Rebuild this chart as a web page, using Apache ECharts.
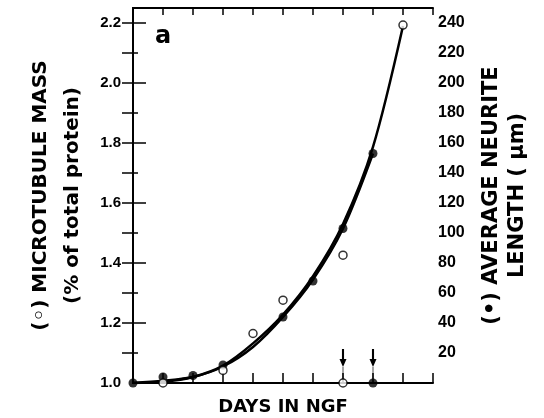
<!DOCTYPE html>
<html>
<head>
<meta charset="utf-8">
<script src="https://cdn.jsdelivr.net/npm/echarts@6/dist/echarts.min.js"></script>
<style>
  html, body { margin: 0; padding: 0; background: #fff; }
  #chart { width: 544px; height: 418px; }
</style>
</head>
<body>
<div id="chart"></div>
<script>
// Microtubule mass (% of total protein) — open circles, left axis
const massDays   = [1, 3, 4, 5, 7, 9, 7];
const massValues = [1.0, 1.042, 1.165, 1.276, 1.426, 2.193, 1.0];

// Average neurite length (µm) — filled circles, right axis
const lengthDays   = [0, 1, 2, 3, 5, 6, 7, 8, 8];
const lengthValues = [0, 4, 5, 12, 44, 68, 103, 153, 0];

// Fitted curves
const massCurveDays   = [0, 1, 2, 3, 4, 5, 6, 7, 8, 9];
const massCurveValues = [1.0, 1.004, 1.02, 1.058, 1.132, 1.228, 1.356, 1.53, 1.787, 2.19];
const lengthCurveDays   = [0, 1, 2, 3, 4, 5, 6, 7, 8];
const lengthCurveValues = [0, 1.5, 4, 11, 24, 44, 69, 103, 153];

// Days marked with an arrow (one per series, on the baseline)
const massArrowDay = 7;
const lengthArrowDay = 8;

const massTicks = [1.0, 1.2, 1.4, 1.6, 1.8, 2.0, 2.2];
const lengthTicks = [20, 40, 60, 80, 100, 120, 140, 160, 180, 200, 220, 240];

const zip = (xs, ys) => xs.map((x, i) => [x, ys[i]]);

const ink = '#000';
const titleFont = 'DejaVu Sans';
const arrowPath = 'path://M3.5,0 L6.5,0 L6.5,10 L10,10 L5,18 L0,10 L3.5,10 Z M4.5,18 L5.5,18 L5.5,30 L4.5,30 Z';

const chart = echarts.init(document.getElementById('chart'), null, { renderer: 'canvas' });

chart.setOption({
  animation: false,
  backgroundColor: '#fff',
  grid: { left: 133, right: 111, top: 8, bottom: 35, containLabel: false, outerBoundsMode: 'none' },
  xAxis: [
    {
      type: 'value', min: 0, max: 10, interval: 1, position: 'bottom',
      axisLine: { show: true, lineStyle: { color: ink, width: 2 } },
      axisTick: { show: true, inside: true, length: 10, lineStyle: { color: ink, width: 1.5 } },
      axisLabel: { show: false },
      splitLine: { show: false },
      name: 'DAYS IN NGF', nameLocation: 'middle', nameGap: 15,
      nameTextStyle: { fontFamily: titleFont, fontWeight: 'bold', fontSize: 18, color: ink }
    },
    {
      type: 'value', min: 0, max: 10, interval: 1, position: 'top',
      axisLine: { show: true, lineStyle: { color: ink, width: 2 } },
      axisTick: { show: true, inside: true, length: 7, lineStyle: { color: ink, width: 1.5 } },
      axisLabel: { show: false },
      splitLine: { show: false }
    }
  ],
  yAxis: [
    {
      type: 'value', min: 1.0, max: 2.25, interval: 0.2, position: 'left',
      axisLine: { show: true, lineStyle: { color: ink, width: 2 } },
      axisTick: { show: true, inside: true, length: 13, lineStyle: { color: ink, width: 1.5 } },
      axisLabel: {
        show: true, margin: 12, showMaxLabel: false,
        fontFamily: 'Liberation Sans', fontSize: 15, fontWeight: 'bold', color: ink,
        formatter: v => massTicks.some(t => Math.abs(t - v) < 1e-6) ? v.toFixed(1) : ''
      },
      splitLine: { show: false },
      name: '(◦) MICROTUBULE MASS\n(% of total protein)',
      nameLocation: 'middle', nameRotate: 90, nameGap: 44,
      nameTextStyle: { fontFamily: titleFont, fontWeight: 'bold', fontSize: 20, lineHeight: 32, color: ink }
    },
    {
      type: 'value', min: 0, max: 250, interval: 20, position: 'right',
      axisLine: { show: true, lineStyle: { color: ink, width: 2 } },
      axisTick: { show: true, inside: true, length: 11, lineStyle: { color: ink, width: 1.5 } },
      axisLabel: {
        show: true, margin: 5, showMinLabel: false, showMaxLabel: false,
        fontFamily: 'Liberation Sans', fontSize: 16, fontWeight: 'bold', color: ink,
        formatter: v => lengthTicks.includes(v) ? String(v) : ''
      },
      splitLine: { show: false },
      name: '(•) AVERAGE NEURITE\nLENGTH ( µm)',
      nameLocation: 'middle', nameRotate: 90, nameGap: 46,
      nameTextStyle: { fontFamily: titleFont, fontWeight: 'bold', fontSize: 21, lineHeight: 26, color: ink }
    },
    {
      // short minor ticks every 0.1 on the left scale
      type: 'value', min: 1.0, max: 2.25, interval: 0.1, position: 'left',
      axisLine: { show: false },
      axisTick: { show: true, inside: true, length: 5, lineStyle: { color: ink, width: 1.5 } },
      axisLabel: { show: false },
      splitLine: { show: false }
    }
  ],
  graphic: [
    {
      type: 'text', x: 155, y: 37,
      style: { text: 'a', font: 'bold 24px DejaVu Sans', fill: ink, verticalAlign: 'middle' }
    }
  ],
  series: [
    {
      name: 'mass fit', type: 'line', xAxisIndex: 0, yAxisIndex: 0,
      data: zip(massCurveDays, massCurveValues),
      smooth: 0.3, showSymbol: false,
      lineStyle: { color: ink, width: 2.5 }, z: 2
    },
    {
      name: 'length fit', type: 'line', xAxisIndex: 0, yAxisIndex: 1,
      data: zip(lengthCurveDays, lengthCurveValues),
      smooth: 0.3, showSymbol: false,
      lineStyle: { color: ink, width: 2.5 }, z: 2
    },
    {
      name: 'microtubule mass', type: 'scatter', xAxisIndex: 0, yAxisIndex: 0,
      data: zip(massDays, massValues),
      symbol: 'circle', symbolSize: 8,
      itemStyle: { color: '#fff', borderColor: ink, borderWidth: 1.5 }, z: 4,
      markPoint: {
        silent: true,
        symbol: arrowPath, symbolSize: [7, 30], symbolOffset: [0, -19],
        itemStyle: { color: ink },
        label: { show: false },
        data: [{ coord: [massArrowDay, 1.0] }]
      }
    },
    {
      name: 'neurite length', type: 'scatter', xAxisIndex: 0, yAxisIndex: 1,
      data: zip(lengthDays, lengthValues),
      symbol: 'circle', symbolSize: 9,
      itemStyle: { color: ink }, z: 3,
      markPoint: {
        silent: true,
        symbol: arrowPath, symbolSize: [7, 30], symbolOffset: [0, -19],
        itemStyle: { color: ink },
        label: { show: false },
        data: [{ coord: [lengthArrowDay, 0] }]
      }
    }
  ]
});
</script>
</body>
</html>
